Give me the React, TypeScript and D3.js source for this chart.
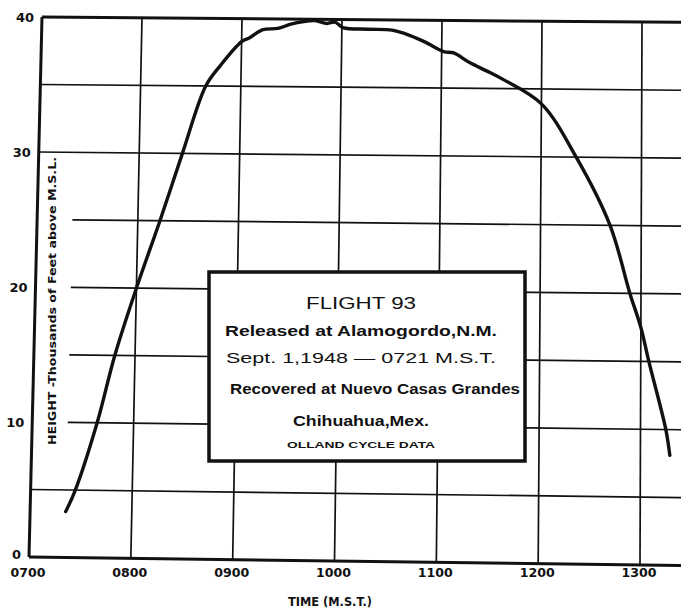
import * as d3 from "d3";

// flight 93 – height vs time (hours, thousands of feet)
const times = [7.35, 7.44, 7.64, 7.8, 8.0, 8.22, 8.43, 8.65, 8.79, 9.0, 9.08, 9.21, 9.36, 9.48, 9.6, 9.73, 9.85, 9.93, 10.01, 10.26, 10.5, 10.63, 10.83, 11.02, 11.12, 11.28, 11.45, 11.61, 12.0, 12.35, 12.69, 12.89, 13.0, 13.08, 13.25, 13.29];
const heights = [3.4, 5, 10, 15, 20, 25, 30, 35, 36.5, 38.3, 38.6, 39.2, 39.3, 39.6, 39.8, 39.9, 39.7, 39.8, 39.4, 39.3, 39.25, 39.0, 38.4, 37.7, 37.6, 36.9, 36.3, 35.7, 33.9, 30, 25, 20, 17.5, 15, 10, 8.1];

const xTickValues = [7, 8, 9, 10, 11, 12, 13];
const xTickLabels = ["0700", "0800", "0900", "1000", "1100", "1200", "1300"];
const yTickValues = [0, 10, 20, 30, 40];
const yGridValues = [0, 5, 10, 15, 20, 25, 30, 35, 40];
const shortGrid = [10, 15, 20, 25]; // these stop short of the axis title

const boxLines = [
  "FLIGHT 93",
  "Released  at Alamogordo,N.M.",
  "Sept. 1,1948  —  0721 M.S.T.",
  "Recovered at Nuevo Casas Grandes",
  "Chihuahua,Mex.",
  "OLLAND CYCLE DATA",
];

const W = 681;
const H = 610;
const FONT = "'Liberation Sans', Arial, sans-serif";
const HEAVY = "'DejaVu Sans', sans-serif";

// the scanned sheet is a bit skewed, so the frame is a quad, not a rectangle
const TL: [number, number] = [42, 17];
const TR: [number, number] = [642, 22];
const BL: [number, number] = [29, 557];
const BR: [number, number] = [640, 565];

const xScale = d3.scaleLinear().domain([7, 13]).range([0, 1]);
const yScale = d3.scaleLinear().domain([0, 40]).range([0, 1]);

function warp(u: number, v: number): [number, number] {
  const bx = BL[0] + (BR[0] - BL[0]) * u;
  const by = BL[1] + (BR[1] - BL[1]) * u;
  const tx = TL[0] + (TR[0] - TL[0]) * u;
  const ty = TL[1] + (TR[1] - TL[1]) * u;
  return [bx + (tx - bx) * v, by + (ty - by) * v];
}
const pt = (t: number, h: number) => warp(xScale(t), yScale(h));

export default function App() {
  const tEnd = 13.42;
  const line = d3.line<[number, number]>().curve(d3.curveCatmullRom.alpha(0.5));
  const curve = line(times.map((t, i) => pt(t, heights[i])));

  const box = { x: 209, y: 272, w: 316, h: 189 };
  const cx = box.x + box.w / 2;
  const lineSpecs = [
    { y: 309, size: 17, len: 110, weight: 400 },
    { y: 336, size: 15.5, len: 272, weight: 700 },
    { y: 363, size: 15.5, len: 270, weight: 400 },
    { y: 394, size: 15, len: 290, weight: 700 },
    { y: 426, size: 15.5, len: 136, weight: 700 },
    { y: 448, size: 9, len: 148, weight: 700 },
  ];

  const [ax] = pt(7, 20);
  const titleY = 301;

  return (
    <svg width={W} height={H} style={{ position: "absolute", left: 0, top: 0, background: "#fff" }}>
      {/* horizontal grid */}
      <g stroke="#111">
        {yGridValues.map((v) => {
          const [x1, y1] = pt(shortGrid.includes(v) ? 7.35 : 7, v);
          const [x2, y2] = pt(tEnd, v);
          return <line key={v} x1={x1} y1={y1} x2={x2} y2={y2} strokeWidth={v === 0 || v === 40 ? 3 : 1.7} />;
        })}
      </g>
      {/* vertical grid */}
      <g stroke="#111">
        {xTickValues.map((t) => {
          const [x1, y1] = pt(t, 0);
          const [x2, y2] = pt(t, 40);
          return <line key={t} x1={x1} y1={y1} x2={x2} y2={y2} strokeWidth={t === 7 ? 3 : 1.7} />;
        })}
      </g>

      {/* flight curve */}
      <path d={curve ?? ""} fill="none" stroke="#111" strokeWidth={3.4} strokeLinecap="round" strokeLinejoin="round" />

      {/* y tick labels */}
      <g fontFamily={HEAVY} fontWeight={700} fontSize={13} fill="#111">
        {yTickValues.map((v) => {
          const [x, y] = pt(7, v);
          return (
            <text key={v} x={x - 8} y={y + (v === 0 ? -3 : 0)} textAnchor="end" dominantBaseline="central">
              {v}
            </text>
          );
        })}
      </g>

      {/* x tick labels */}
      <g fontFamily={HEAVY} fontWeight={700} fontSize={12.5} fill="#111">
        {xTickValues.map((t, i) => {
          const [x] = pt(t, 0);
          return (
            <text key={t} x={x - 1} y={577} textAnchor="middle" textLength={35} lengthAdjust="spacingAndGlyphs">
              {xTickLabels[i]}
            </text>
          );
        })}
        <text x={330} y={606} textAnchor="middle" fontSize={12} textLength={84} lengthAdjust="spacingAndGlyphs">
          TIME (M.S.T.)
        </text>
      </g>

      {/* y axis title */}
      <text
        transform={`translate(${ax + 17},${titleY}) rotate(-90)`}
        textAnchor="middle"
        dominantBaseline="central"
        fontFamily={HEAVY}
        fontWeight={700}
        fontSize={10}
        textLength={288}
        lengthAdjust="spacingAndGlyphs"
        fill="#111"
      >
        HEIGHT -Thousands of Feet above M.S.L.
      </text>

      {/* annotation box */}
      <rect x={box.x} y={box.y} width={box.w} height={box.h} fill="#fff" stroke="#111" strokeWidth={3.5} />
      <g fontFamily={FONT} fill="#111" textAnchor="middle">
        {boxLines.map((s, i) => (
          <text
            key={i}
            x={i === 3 ? cx + 8 : cx - 6}
            y={lineSpecs[i].y}
            fontSize={lineSpecs[i].size}
            fontWeight={lineSpecs[i].weight}
            textLength={lineSpecs[i].len}
            lengthAdjust="spacingAndGlyphs"
          >
            {s}
          </text>
        ))}
      </g>
    </svg>
  );
}
